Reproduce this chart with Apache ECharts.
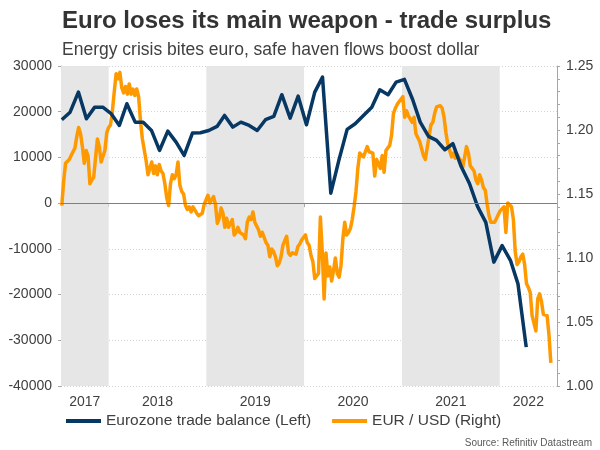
<!DOCTYPE html>
<html>
<head>
<meta charset="utf-8">
<script src="https://cdn.jsdelivr.net/npm/echarts@6/dist/echarts.min.js"></script>
<style>
	html, body { margin: 0; padding: 0; background: #fff; }
	#chart { width: 600px; height: 450px; }
</style>
</head>
<body>
<div id="chart"></div>
<script>
// monthly trade balance, Jul 2017 .. Apr 2022 (EUR mn)
var tradeStart = [2017, 6];
var tradeBalance = [
	18250, 19900, 24300, 18470, 21000, 21000,
	19600, 17000, 21750, 17720, 17700, 15900, 11530, 15750, 13350, 10440, 15320, 15400,
	15900, 16780, 19190, 16630, 17720, 17000, 15900, 18250, 18970, 23720, 18600, 23410,
	17150, 24290, 27570, 2190, 9340, 16130, 17370, 19190, 21000, 24800, 23720, 26480,
	27070, 22620, 17720, 14600, 13720, 11680, 13000, 8000, 4300, -700, -4200, -12900,
	-9300, -12500, -17600, -31500
];

// weekly EUR/USD from 10 Jul 2017
var eurStart = [2017, 6, 10];
var eurUsd = [
	1.141, 1.160, 1.174, 1.175, 1.177, 1.180, 1.179, 1.186, 1.195, 1.202,
	1.197, 1.187, 1.174, 1.184, 1.180, 1.158, 1.161, 1.163, 1.178, 1.193,
	1.187, 1.175, 1.176, 1.184, 1.198, 1.202, 1.204, 1.215, 1.230, 1.244,
	1.240, 1.245, 1.233, 1.229, 1.234, 1.228, 1.236, 1.228, 1.232, 1.227,
	1.232, 1.226, 1.207, 1.193, 1.193, 1.176, 1.165, 1.164, 1.175, 1.166,
	1.172, 1.165, 1.173, 1.168, 1.166, 1.158, 1.147, 1.141, 1.158, 1.165,
	1.162, 1.165, 1.175, 1.157, 1.152, 1.150, 1.141, 1.138, 1.140, 1.136,
	1.140, 1.139, 1.135, 1.133, 1.134, 1.135, 1.142, 1.143, 1.149, 1.143,
	1.142, 1.148, 1.142, 1.127, 1.131, 1.139, 1.135, 1.124, 1.131, 1.124,
	1.124, 1.130, 1.118, 1.120, 1.124, 1.120, 1.120, 1.118, 1.115, 1.128,
	1.132, 1.130, 1.136, 1.128, 1.125, 1.122, 1.117, 1.120, 1.119, 1.112,
	1.110, 1.101, 1.107, 1.105, 1.101, 1.094, 1.096, 1.101, 1.110, 1.111,
	1.117, 1.104, 1.102, 1.104, 1.103, 1.103, 1.109, 1.111, 1.114, 1.116,
	1.118, 1.112, 1.110, 1.102, 1.097, 1.084, 1.085, 1.088, 1.132, 1.105,
	1.068, 1.104, 1.086, 1.093, 1.082, 1.090, 1.100, 1.088, 1.085, 1.094,
	1.115, 1.128, 1.118, 1.120, 1.123, 1.130, 1.140, 1.152, 1.170, 1.182,
	1.183, 1.179, 1.183, 1.187, 1.183, 1.184, 1.182, 1.164, 1.177, 1.177,
	1.170, 1.180, 1.167, 1.184, 1.185, 1.188, 1.196, 1.213, 1.217, 1.220,
	1.222, 1.221, 1.226, 1.210, 1.215, 1.211, 1.212, 1.206, 1.210, 1.197,
	1.196, 1.191, 1.191, 1.180, 1.177, 1.186, 1.195, 1.204, 1.206, 1.213,
	1.218, 1.219, 1.219, 1.217, 1.210, 1.198, 1.189, 1.190, 1.179, 1.182,
	1.178, 1.181, 1.178, 1.176, 1.171, 1.179, 1.187, 1.182, 1.172, 1.170,
	1.168, 1.161, 1.158, 1.165, 1.161, 1.155, 1.153, 1.142, 1.133, 1.128,
	1.127, 1.128, 1.127, 1.134, 1.137, 1.138, 1.140, 1.120, 1.143, 1.143,
	1.140, 1.130, 1.105, 1.095, 1.097, 1.101, 1.103, 1.095, 1.080, 1.077,
	1.073, 1.055, 1.054, 1.043, 1.068, 1.072, 1.066, 1.056, 1.056, 1.055,
	1.040, 1.018
];

var yearTicks = [2018, 2019, 2020, 2021, 2022];
var shadedYears = [2017, 2019, 2021];
var leftTicks = { min: -40000, max: 30000, step: 10000 };
var rightTicks = { min: 1.00, max: 1.25, step: 0.05 };

var xMin = Date.UTC(2017, 6, 7);
var xMax = Date.UTC(2022, 7, 3);
var DAY = 86400000;

function jan1(y) {
	return Date.UTC(y, 0, 1);
}

var tradeData = tradeBalance.map(function (v, i) {
	return [Date.UTC(tradeStart[0], tradeStart[1] + i, 10), v];
});
var eurData = eurUsd.map(function (v, i) {
	return [Date.UTC(eurStart[0], eurStart[1], eurStart[2]) + i * 7 * DAY, v];
});

// year labels sit in the middle of the visible part of each year
var labelPos = [2017].concat(yearTicks).map(function (y) {
	var a = Math.max(jan1(y), xMin);
	var b = Math.min(jan1(y + 1), xMax);
	return (a + b) / 2;
});

var bands = shadedYears.map(function (y) {
	return [{ xAxis: Math.max(jan1(y), xMin) }, { xAxis: Math.min(jan1(y + 1), xMax) }];
});

var font = "'Liberation Sans', Arial, sans-serif";
var axisGray = "#a6a6a6";
var textGray = "#404040";

var chart = echarts.init(document.getElementById("chart"));
chart.setOption({
	animation: false,
	textStyle: { fontFamily: font },
	title: [{
		text: "Euro loses its main weapon - trade surplus",
		left: 62,
		top: 9,
		padding: 0,
		textStyle: { fontFamily: font, fontSize: 24, fontWeight: "bold", color: "#333333" }
	}, {
		text: "Energy crisis bites euro, safe haven flows boost dollar",
		left: 62,
		top: 41,
		padding: 0,
		textStyle: { fontFamily: font, fontSize: 17.5, fontWeight: "normal", color: textGray }
	}],
	legend: {
		data: ["Eurozone trade balance (Left)", "EUR / USD (Right)"],
		left: 66,
		top: 413,
		padding: 0,
		icon: "rect",
		itemWidth: 35,
		itemHeight: 4,
		itemGap: 21,
		textStyle: { fontFamily: font, fontSize: 15.5, color: textGray }
	},
	graphic: [{
		type: "text",
		right: 8,
		top: 438,
		style: { text: "Source: Refinitiv Datastream", font: "10px " + font, fill: "#595959" }
	}],
	grid: { left: 61, right: 43, top: 66, bottom: 64 },
	xAxis: {
		type: "value",
		min: xMin,
		max: xMax,
		splitLine: { show: false },
		axisLine: { lineStyle: { color: axisGray } },
		axisTick: { customValues: yearTicks.map(jan1), length: 4, lineStyle: { color: axisGray } },
		axisLabel: {
			customValues: labelPos,
			margin: 9,
			fontSize: 14,
			color: textGray,
			formatter: function (v) { return String(new Date(v).getUTCFullYear()); }
		}
	},
	yAxis: [{
		type: "value",
		min: leftTicks.min,
		max: leftTicks.max,
		interval: leftTicks.step,
		axisLine: { show: true, lineStyle: { color: axisGray } },
		axisTick: { show: true, length: 3, lineStyle: { color: axisGray } },
		axisLabel: { fontSize: 14, color: textGray, margin: 9, formatter: function (v) { return String(v); } },
		splitLine: { lineStyle: { color: "#d4d4d4", type: [1, 2] } }
	}, {
		type: "value",
		position: "right",
		min: rightTicks.min,
		max: rightTicks.max,
		interval: rightTicks.step,
		axisLine: { show: true, lineStyle: { color: axisGray } },
		axisTick: { show: true, length: 3, lineStyle: { color: axisGray } },
		minorTick: { show: true, splitNumber: 5, length: 3, lineStyle: { color: axisGray } },
		axisLabel: { fontSize: 14, color: textGray, margin: 9, formatter: function (v) { return v.toFixed(2); } },
		splitLine: { show: false }
	}],
	series: [{
		name: "bands",
		type: "line",
		data: [],
		silent: true,
		markArea: {
			silent: true,
			itemStyle: { color: "#e6e6e6" },
			label: { show: false },
			data: bands
		},
		markLine: {
			silent: true,
			symbol: "none",
			label: { show: false },
			lineStyle: { color: "#7f7f7f", type: "solid", width: 1 },
			data: [{ yAxis: 0 }]
		}
	}, {
		name: "EUR / USD (Right)",
		type: "line",
		yAxisIndex: 1,
		data: eurData,
		showSymbol: false,
		color: "#ff9900",
		lineStyle: { width: 3.5, join: "round" }
	}, {
		name: "Eurozone trade balance (Left)",
		type: "line",
		yAxisIndex: 0,
		data: tradeData,
		showSymbol: false,
		color: "#073763",
		lineStyle: { width: 3.5, join: "round" }
	}]
});
</script>
</body>
</html>
